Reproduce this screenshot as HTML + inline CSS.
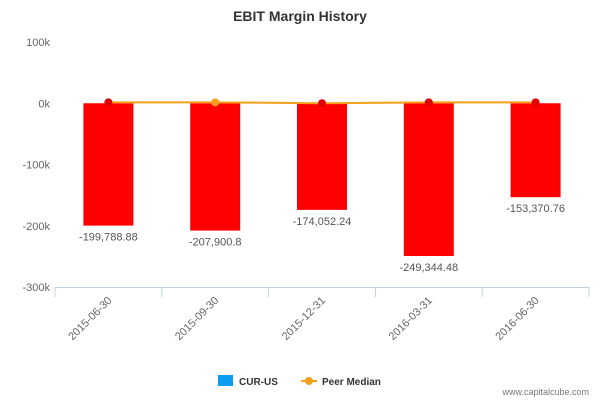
<!DOCTYPE html>
<html><head><meta charset="utf-8"><style>
body{margin:0;background:#fff;font-family:"Liberation Sans",sans-serif}
</style></head><body>
<svg id="c" width="600" height="400" xmlns="http://www.w3.org/2000/svg" font-family="Liberation Sans, sans-serif">
<text x="300" y="21" text-anchor="middle" font-size="14" font-weight="bold" fill="#333">EBIT Margin History</text>
<g id="grid"></g><g id="bars"></g><g id="line"></g><g id="labels"></g>
<g>
<rect x="218" y="375" width="15" height="11" fill="#0a9cf0"/>
<text x="239" y="385" font-size="10" font-weight="bold" fill="#333">CUR-US</text>
<line x1="301" y1="381" x2="317" y2="381" stroke="#f5a01a" stroke-width="2"/>
<circle cx="309" cy="381" r="4" fill="#f5a01a"/>
<text x="322" y="385" font-size="10" font-weight="bold" fill="#333">Peer Median</text>
</g>
<text x="589" y="395" text-anchor="end" font-size="9" fill="#777">www.capitalcube.com</text>
</svg>
<script>
const categories=["2015-06-30","2015-09-30","2015-12-31","2016-03-31","2016-06-30"];
const curValues=[-199788.88,-207900.8,-174052.24,-249344.48,-153370.76];
const curLabels=["-199,788.88","-207,900.8","-174,052.24","-249,344.48","-153,370.76"];
const peerValues=[1500,1500,0,1500,1500];
const yTicks=[100000,0,-100000,-200000,-300000];
const yTickLabels=["100k","0k","-100k","-200k","-300k"];
const NS="http://www.w3.org/2000/svg";
const x0=55,x1=589,yTop=42,yBot=287,vMax=100000,vMin=-300000;
const cw=(x1-x0)/categories.length;
const xC=i=>x0+cw*(i+0.5);
const y=v=>yTop+(vMax-v)/(vMax-vMin)*(yBot-yTop);
function mk(t,a,p){const e=document.createElementNS(NS,t);for(const k in a)e.setAttribute(k,a[k]);p.appendChild(e);return e;}
const g=document.getElementById('grid');
yTicks.forEach((v,i)=>{const t=mk('text',{x:50,y:y(v)+4,'text-anchor':'end','font-size':11,fill:'#666'},g);t.textContent=yTickLabels[i];

});
const ax=mk('line',{x1:x0,y1:yBot+0.5,x2:x1,y2:yBot+0.5,stroke:'#c0d0e0'},g);


for(let i=0;i<=categories.length;i++){const tk=mk('line',{x1:x0+cw*i,y1:yBot,x2:x0+cw*i,y2:yBot+10,stroke:'#c0d0e0'},g);

}
categories.forEach((c,i)=>{const cx=xC(i)+4,cy=yBot+14;const t=mk('text',{x:cx,y:cy,'text-anchor':'end','font-size':11,fill:'#666',transform:`rotate(-45 ${cx} ${cy})`},g);t.textContent=c;

});
const b=document.getElementById('bars'),lb=document.getElementById('labels');
curValues.forEach((v,i)=>{const r=mk('rect',{x:xC(i)-25,y:y(0),width:50,height:y(v)-y(0),fill:'#ff0000'},b);


const t=mk('text',{x:xC(i),y:y(v)+15,'text-anchor':'middle','font-size':11,fill:'#555'},lb);t.textContent=curLabels[i];

});
const L=document.getElementById('line');
const pl=mk('polyline',{points:peerValues.map((v,i)=>xC(i)+','+y(v)).join(' '),fill:'none',stroke:'#f5a01a','stroke-width':2},L);


peerValues.forEach((v,i)=>{const d=mk('circle',{cx:xC(i),cy:y(v),r:4,fill:i===1?'#f5a01a':'#e00000'},L);

});
</script>
</body></html>
